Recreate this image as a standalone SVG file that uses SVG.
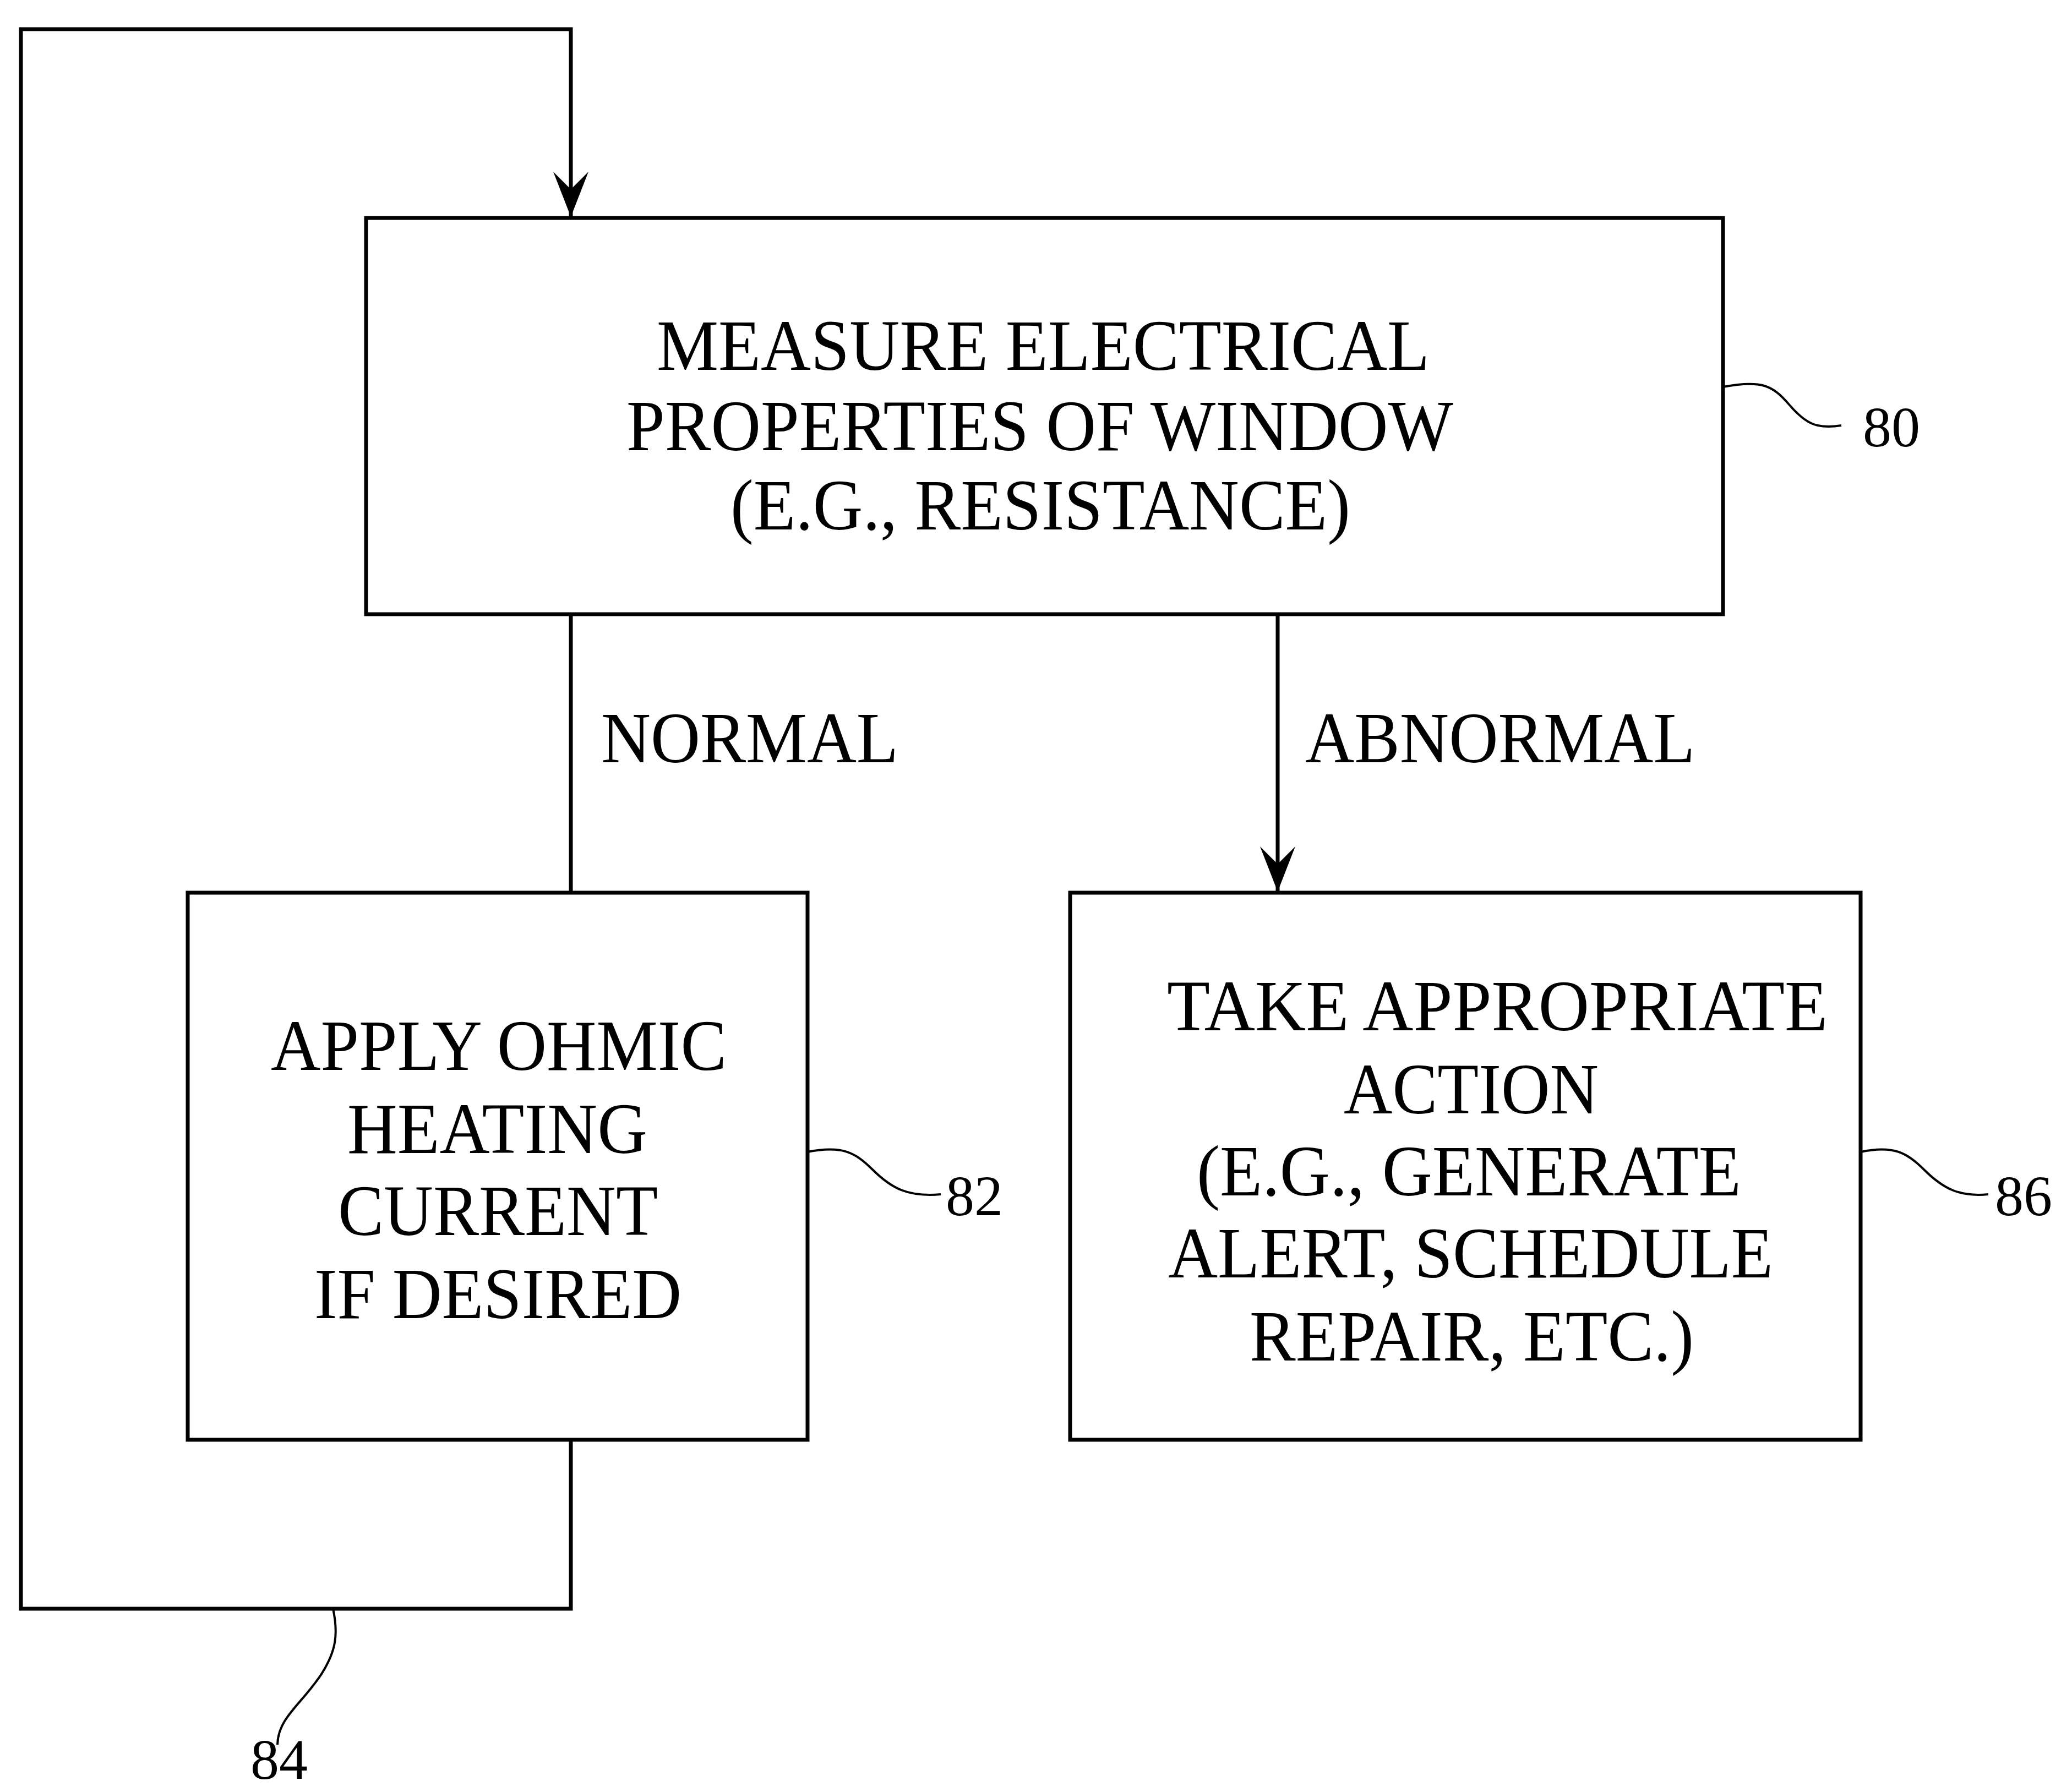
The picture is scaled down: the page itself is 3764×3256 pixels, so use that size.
<svg xmlns="http://www.w3.org/2000/svg" width="3764" height="3256" viewBox="0 0 3764 3256">
<style>
.box{fill:#fff;stroke:#000;stroke-width:7}
.ln{fill:none;stroke:#000;stroke-width:7}
.ld{fill:none;stroke:#000;stroke-width:4}
.t{font-family:"Liberation Serif","Times New Roman",serif;font-size:132px;fill:#000}
.n{font-family:"Liberation Serif","Times New Roman",serif;font-size:104px;fill:#000}
</style>
<defs>
<marker id="ah" markerUnits="userSpaceOnUse" markerWidth="90" markerHeight="70" refX="86" refY="35" orient="auto" viewBox="0 0 90 70">
<path d="M86,35 L4,3 L36,35 L4,67 Z" fill="#000"/>
</marker>
</defs>
<rect width="3764" height="3256" fill="#fff"/>
<g id="connectors">
<path class="ln" d="M1037,2616 V2923 H38 V53 H1037 V394" marker-end="url(#ah)"/>
<path class="ln" d="M1037,1116 V1622"/>
<path class="ln" d="M2321,1116 V1620" marker-end="url(#ah)"/>
<text class="t" x="1092" y="1385" textLength="540" lengthAdjust="spacingAndGlyphs">NORMAL</text>
<text class="t" x="2371" y="1385" textLength="708" lengthAdjust="spacingAndGlyphs">ABNORMAL</text>
</g>
<g id="node80">
<rect class="box" x="665" y="396" width="2465" height="720"/>
<text class="t" x="1193" y="672" textLength="1404" lengthAdjust="spacingAndGlyphs">MEASURE ELECTRICAL</text>
<text class="t" x="1138" y="818" textLength="1502" lengthAdjust="spacingAndGlyphs">PROPERTIES OF WINDOW</text>
<text class="t" x="1327" y="962" textLength="1126" lengthAdjust="spacingAndGlyphs">(E.G., RESISTANCE)</text>
<path class="ld" d="M3130,703 C3200,690 3220,700 3250,735 C3280,770 3300,780 3345,773"/>
<text class="n" x="3384" y="811">80</text>
</g>
<g id="node82">
<rect class="box" x="341" y="1622" width="1126" height="994"/>
<text class="t" x="492" y="1944" textLength="828" lengthAdjust="spacingAndGlyphs">APPLY OHMIC</text>
<text class="t" x="631" y="2095" textLength="545" lengthAdjust="spacingAndGlyphs">HEATING</text>
<text class="t" x="614" y="2244" textLength="581" lengthAdjust="spacingAndGlyphs">CURRENT</text>
<text class="t" x="571" y="2395" textLength="667" lengthAdjust="spacingAndGlyphs">IF DESIRED</text>
<path class="ld" d="M1467,2093 C1530,2080 1555,2095 1585,2125 C1620,2160 1650,2175 1709,2170"/>
<text class="n" x="1718" y="2208">82</text>
</g>
<g id="node86">
<rect class="box" x="1944" y="1622" width="1436" height="994"/>
<text class="t" x="2120" y="1872" textLength="1200" lengthAdjust="spacingAndGlyphs">TAKE APPROPRIATE</text>
<text class="t" x="2441" y="2023" textLength="463" lengthAdjust="spacingAndGlyphs">ACTION</text>
<text class="t" x="2174" y="2172" textLength="989" lengthAdjust="spacingAndGlyphs">(E.G., GENERATE</text>
<text class="t" x="2122" y="2321" textLength="1099" lengthAdjust="spacingAndGlyphs">ALERT, SCHEDULE</text>
<text class="t" x="2270" y="2472" textLength="807" lengthAdjust="spacingAndGlyphs">REPAIR, ETC.)</text>
<path class="ld" d="M3380,2093 C3440,2080 3465,2095 3495,2125 C3530,2160 3560,2175 3612,2170"/>
<text class="n" x="3624" y="2208">86</text>
</g>
<g id="label84">
<path class="ld" d="M605,2923 C615,2970 610,3000 585,3040 C550,3095 505,3120 504,3170"/>
<text class="n" x="507" y="3232" text-anchor="middle">84</text>
</g>
</svg>
